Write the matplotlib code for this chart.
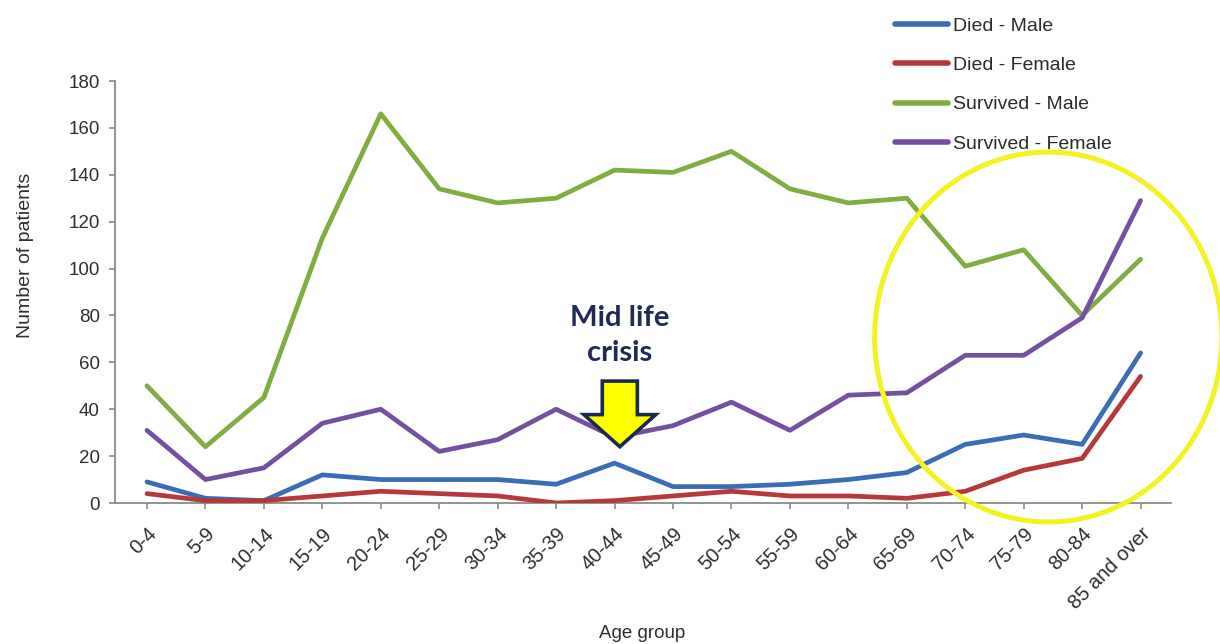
import numpy as np
import matplotlib
matplotlib.use("Agg")
import matplotlib.pyplot as plt
from matplotlib.patches import Ellipse, Polygon

# ---- data ----
categories = ['0-4', '5-9', '10-14', '15-19', '20-24', '25-29', '30-34', '35-39',
              '40-44', '45-49', '50-54', '55-59', '60-64', '65-69', '70-74',
              '75-79', '80-84', '85 and over']
died_male = [9, 2, 1, 12, 10, 10, 10, 8, 17, 7, 7, 8, 10, 13, 25, 29, 25, 64]
died_female = [4, 1, 1, 3, 5, 4, 3, 0, 1, 3, 5, 3, 3, 2, 5, 14, 19, 54]
survived_male = [50, 24, 45, 113, 166, 134, 128, 130, 142, 141, 150, 134, 128, 130,
                 101, 108, 80, 104]
survived_female = [31, 10, 15, 34, 40, 22, 27, 40, 28, 33, 43, 31, 46, 47, 63, 63,
                   79, 129]
series_names = ['Died - Male', 'Died - Female', 'Survived - Male', 'Survived - Female']
y_ticks = list(range(0, 181, 20))

plt.rcParams['font.family'] = ['Liberation Sans', 'DejaVu Sans']

W, H = 1220, 644
fig = plt.figure(figsize=(W / 100, H / 100), dpi=100)
ax = fig.add_axes([115 / W, 1 - 503 / H, (1171 - 115) / W, (503 - 81) / H])

x = np.arange(len(categories))
colors = ['#3A6DB3', '#B5393B', '#80AC40', '#7350A0']
all_series = [died_male, died_female, survived_male, survived_female]
lines = []
for vals, name, c in zip(all_series, series_names, colors):
    ln, = ax.plot(x, vals, color=c, lw=3.4, label=name,
                  solid_joinstyle='round', solid_capstyle='round', zorder=3)
    lines.append(ln)

ax.set_xlim(-0.547, 17.52)
ax.set_ylim(0, 180)
ax.set_yticks(y_ticks)
ax.set_xticks(x)
ax.set_xticklabels(categories, rotation=45, ha='right', va='top',
                   rotation_mode='anchor')

for s in ['top', 'right']:
    ax.spines[s].set_visible(False)
for s in ['left', 'bottom']:
    ax.spines[s].set_color('#8A8A8A')
    ax.spines[s].set_linewidth(1.3)

ax.tick_params(axis='both', direction='out', length=4, width=1.2,
               color='#8A8A8A', labelcolor='#2E2E2E')
ax.tick_params(axis='y', labelsize=13.5, pad=7)
ax.tick_params(axis='x', labelsize=14.5, pad=11)

fig.text(26 / W, 1 - 255 / H, 'Number of patients', rotation=90,
         ha='center', va='center', fontsize=14, color='#2E2E2E')
fig.text(642 / W, 1 - 633 / H, 'Age group', ha='center', va='center',
         fontsize=13.5, color='#2E2E2E')

leg = fig.legend(handles=lines, loc='upper left', bbox_to_anchor=(895 / W, 1 - 17 / H),
                 frameon=False, fontsize=14, handlelength=2.75, handletextpad=0.22,
                 labelspacing=1.12, borderaxespad=0, borderpad=0,
                 labelcolor='#2A2A2A')
for h in leg.legend_handles:
    h.set_linewidth(4.0)

# ---- annotation arrow "Mid life crisis" at category 40-44 ----
cx = categories.index('40-44') + 0.09
arrow = Polygon([(cx, 24), (cx - 0.615, 37.7), (cx - 0.3, 37.7), (cx - 0.3, 52),
                 (cx + 0.3, 52), (cx + 0.3, 37.7), (cx + 0.615, 37.7)],
                closed=True, facecolor='#FFFF00', edgecolor='#1B2A4E', lw=2.6,
                zorder=5, joinstyle='miter')
ax.add_patch(arrow)
ax.text(cx, 71.5, 'Mid life\ncrisis', ha='center', va='center', fontsize=21,
        fontweight='bold', family=['Lato', 'DejaVu Sans'], color='#1F2A55',
        linespacing=1.45, zorder=6)

# ---- highlight ellipse ----
ell = Ellipse((15.42, 70.8), width=5.94, height=157.8, fill=False,
              edgecolor='#F2F224', lw=3.6, clip_on=False, zorder=4)
ax.add_patch(ell)

fig.savefig('out.png', dpi=100)
